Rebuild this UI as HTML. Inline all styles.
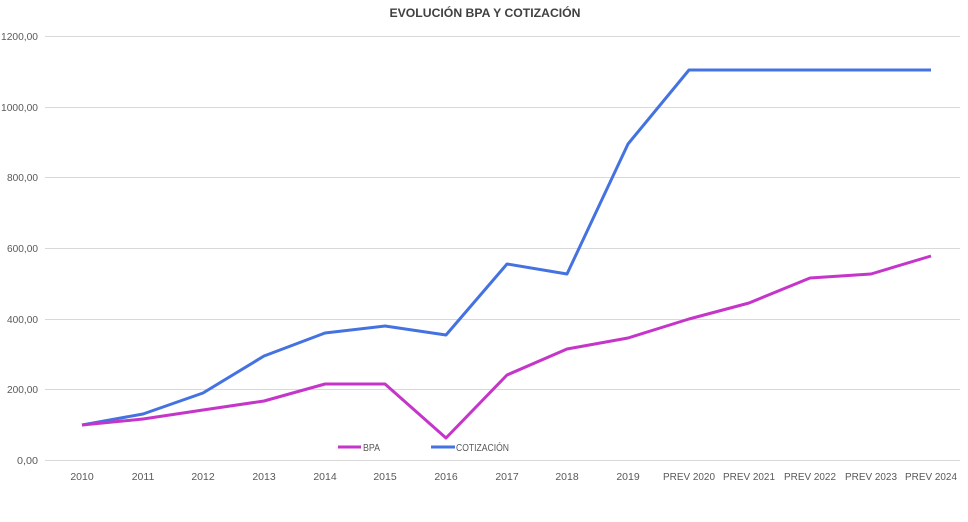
<!DOCTYPE html>
<html><head><meta charset="utf-8"><style>
html,body{margin:0;padding:0;background:#fff;}
svg text{font-family:"Liberation Sans",sans-serif;fill:#595959;font-size:10.5px;}
</style></head><body>
<svg width="968" height="517" xmlns="http://www.w3.org/2000/svg">
<text x="485" y="17" text-anchor="middle" style="font-size:12px;font-weight:bold;fill:#404040" textLength="191" lengthAdjust="spacingAndGlyphs">EVOLUCIÓN BPA Y COTIZACIÓN</text>
<g stroke="#d9d9d9" stroke-width="1">
<line x1="45" x2="960" y1="36.5" y2="36.5"/>
<line x1="45" x2="960" y1="107.5" y2="107.5"/>
<line x1="45" x2="960" y1="177.5" y2="177.5"/>
<line x1="45" x2="960" y1="248.5" y2="248.5"/>
<line x1="45" x2="960" y1="319.5" y2="319.5"/>
<line x1="45" x2="960" y1="389.5" y2="389.5"/>
<line x1="45" x2="960" y1="460.5" y2="460.5"/>
</g>
<g>
<text x="1" y="40" textLength="37" lengthAdjust="spacingAndGlyphs">1200,00</text>
<text x="1" y="111" textLength="37" lengthAdjust="spacingAndGlyphs">1000,00</text>
<text x="7" y="181" textLength="31" lengthAdjust="spacingAndGlyphs">800,00</text>
<text x="7" y="252" textLength="31" lengthAdjust="spacingAndGlyphs">600,00</text>
<text x="7" y="323" textLength="31" lengthAdjust="spacingAndGlyphs">400,00</text>
<text x="7" y="393" textLength="31" lengthAdjust="spacingAndGlyphs">200,00</text>
<text x="17" y="464" textLength="21" lengthAdjust="spacingAndGlyphs">0,00</text>
</g>
<g text-anchor="middle">
<text x="82" y="480">2010</text>
<text x="143" y="480">2011</text>
<text x="203" y="480">2012</text>
<text x="264" y="480">2013</text>
<text x="325" y="480">2014</text>
<text x="385" y="480">2015</text>
<text x="446" y="480">2016</text>
<text x="507" y="480">2017</text>
<text x="567" y="480">2018</text>
<text x="628" y="480">2019</text>
</g>
<g>
<text x="663" y="480" textLength="52" lengthAdjust="spacingAndGlyphs">PREV 2020</text>
<text x="723" y="480" textLength="52" lengthAdjust="spacingAndGlyphs">PREV 2021</text>
<text x="784" y="480" textLength="52" lengthAdjust="spacingAndGlyphs">PREV 2022</text>
<text x="845" y="480" textLength="52" lengthAdjust="spacingAndGlyphs">PREV 2023</text>
<text x="905" y="480" textLength="52" lengthAdjust="spacingAndGlyphs">PREV 2024</text>
</g>
<polyline fill="none" stroke="#4472e0" stroke-width="3" stroke-linejoin="round" points="82,425 143,414 203,393 264,356 325,333 385,326 446,335 507,264 567,274 628,144 689,70 749,70 810,70 871,70 931,70"/>
<polyline fill="none" stroke="#c535c9" stroke-width="3" stroke-linejoin="round" points="82,425 143,419 203,410 264,401 325,384 385,384 446,438 507,375 567,349 628,338 689,319 749,303 810,278 871,274 931,256"/>
<line x1="338" x2="361" y1="447" y2="447" stroke="#c535c9" stroke-width="3"/>
<text x="363" y="451" textLength="17" lengthAdjust="spacingAndGlyphs">BPA</text>
<line x1="431" x2="455" y1="447" y2="447" stroke="#4472e0" stroke-width="3"/>
<text x="456" y="451" textLength="53" lengthAdjust="spacingAndGlyphs">COTIZACIÓN</text>
</svg>
</body></html>
